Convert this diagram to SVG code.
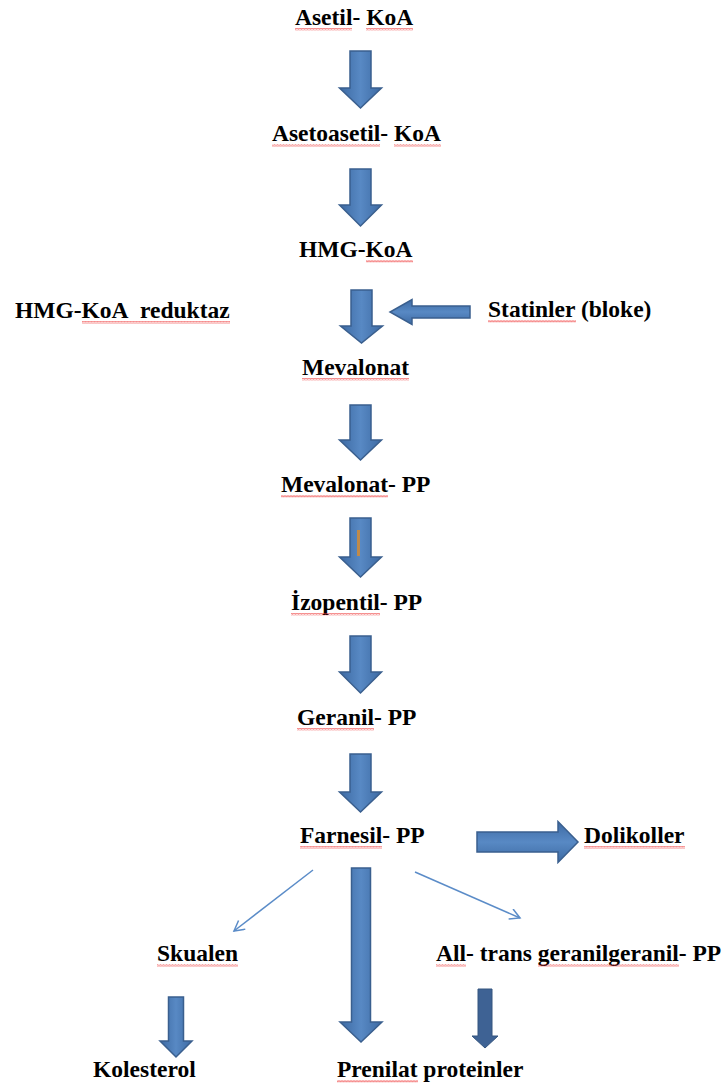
<svg xmlns="http://www.w3.org/2000/svg" width="728" height="1088" viewBox="0 0 728 1088">
<style>
text{font-family:"Liberation Serif","Times New Roman",serif;font-weight:bold;font-size:23.5px;fill:#000}
.ad{fill:url(#gv);stroke:#3A5F8E;stroke-width:1.5}
.ah{fill:url(#gh);stroke:#3A5F8E;stroke-width:1.5}
.as{fill:#3E6294;stroke:#34557F;stroke-width:1}
.thin{fill:none;stroke:#5B8CC8;stroke-width:1.5;marker-end:url(#open)}
.sq{fill:url(#wave)}
</style>
<defs>
<linearGradient id="gv" x1="0" y1="0" x2="1" y2="0">
<stop offset="0" stop-color="#3D6AA3"/><stop offset="0.5" stop-color="#5889C4"/><stop offset="1" stop-color="#3D6AA3"/>
</linearGradient>
<linearGradient id="gh" x1="0" y1="0" x2="0" y2="1">
<stop offset="0" stop-color="#3D6AA3"/><stop offset="0.5" stop-color="#5889C4"/><stop offset="1" stop-color="#3D6AA3"/>
</linearGradient>
<pattern id="wave" width="3" height="2.5" patternUnits="userSpaceOnUse">
<path d="M0,2 L0.75,0.5 L1.5,2 L2.25,0.5 L3,2" fill="none" stroke="#EE3A3A" stroke-width="0.7" stroke-opacity="0.85"/>
</pattern>
<marker id="open" markerWidth="14" markerHeight="14" refX="11" refY="6" orient="auto" markerUnits="userSpaceOnUse">
<path d="M1,0.5 L11,6 L1,11.5" fill="none" stroke="#5B8CC8" stroke-width="1.5"/>
</marker>
</defs>

<g id="connectors">
<path class="ad" d="M350,51 H371 V88 H381.5 L360.5,108 L339.5,88 H350 Z"/>
<path class="ad" d="M350,169 H371 V205 H381.5 L360.5,226 L339.5,205 H350 Z"/>
<path class="ad" d="M351,290 H372 V326 H382.5 L361.5,343 L340.5,326 H351 Z"/>
<path class="ah" d="M470,306 V318 H412 V324.5 L390,312 L412,299.5 V306 Z"/>
<path class="ad" d="M350,405 H371 V440 H381.5 L360.5,460 L339.5,440 H350 Z"/>
<path class="ad" d="M350,518 H371 V557 H381.5 L360.5,577 L339.5,557 H350 Z"/>
<line x1="358.5" y1="530" x2="358.5" y2="556" stroke="#C08A4A" stroke-width="3"/>
<path class="ad" d="M350,636 H371 V672 H381.5 L360.5,693 L339.5,672 H350 Z"/>
<path class="ad" d="M350,754 H371 V792 H381.5 L360.5,812 L339.5,792 H350 Z"/>
<path class="ah" d="M477,832 H558 V821.5 L578,842 L558,862.5 V852 H477 Z"/>
<line class="thin" x1="313" y1="870" x2="234" y2="931"/>
<line class="thin" x1="415" y1="872" x2="520" y2="918"/>
<path class="ad" d="M351.5,868 H370.5 V1022 H382 L361,1042 L340,1022 H351.5 Z"/>
<path class="ad" d="M168.5,997 H183.5 V1041 H192 L176,1057 L160,1041 H168.5 Z"/>
<path class="as" d="M478,989 H492 V1036 H498 L485,1048 L472,1036 H478 Z"/>
</g>

<g id="n-asetil"><text x="295" y="25">Asetil- KoA</text><rect class="sq" x="295" y="28" width="57" height="2.5"/><rect class="sq" x="366" y="28" width="47" height="2.5"/></g>
<g id="n-asetoasetil"><text x="272" y="141">Asetoasetil- KoA</text><rect class="sq" x="272" y="144" width="108" height="2.5"/><rect class="sq" x="394" y="144" width="47" height="2.5"/></g>
<g id="n-hmgkoa"><text x="299" y="257">HMG-KoA</text><rect class="sq" x="366" y="260" width="47" height="2.5"/></g>
<g id="n-reduktaz"><text x="15" y="318">HMG-KoA <tspan x="140">reduktaz</tspan></text><rect class="sq" x="82" y="321" width="148" height="2.5"/></g>
<g id="n-statinler"><text x="488" y="317">Statinler (bloke)</text><rect class="sq" x="488" y="320" width="88" height="2.5"/></g>
<g id="n-mevalonat"><text x="302" y="375">Mevalonat</text><rect class="sq" x="302" y="378" width="107" height="2.5"/></g>
<g id="n-mevalonatpp"><text x="281" y="492">Mevalonat- PP</text><rect class="sq" x="281" y="495" width="107" height="2.5"/></g>
<g id="n-izopentil"><text x="291" y="610">İzopentil- PP</text><rect class="sq" x="291" y="613" width="89" height="2.5"/></g>
<g id="n-geranil"><text x="297" y="725">Geranil- PP</text><rect class="sq" x="297" y="728" width="77" height="2.5"/></g>
<g id="n-farnesil"><text x="300" y="843">Farnesil- PP</text><rect class="sq" x="300" y="846" width="82" height="2.5"/></g>
<g id="n-dolikoller"><text x="584" y="843">Dolikoller</text><rect class="sq" x="584" y="846" width="101" height="2.5"/></g>
<g id="n-skualen"><text x="157" y="961">Skualen</text><rect class="sq" x="157" y="964" width="81" height="2.5"/></g>
<g id="n-alltrans"><text x="436" y="961">All- trans geranilgeranil- PP</text><rect class="sq" x="436" y="964" width="30" height="2.5"/><rect class="sq" x="538" y="964" width="141" height="2.5"/></g>
<g id="n-kolesterol"><text x="93" y="1077">Kolesterol</text></g>
<g id="n-prenilat"><text x="337" y="1077">Prenilat proteinler</text><rect class="sq" x="337" y="1080" width="81" height="2.5"/></g>
</svg>
